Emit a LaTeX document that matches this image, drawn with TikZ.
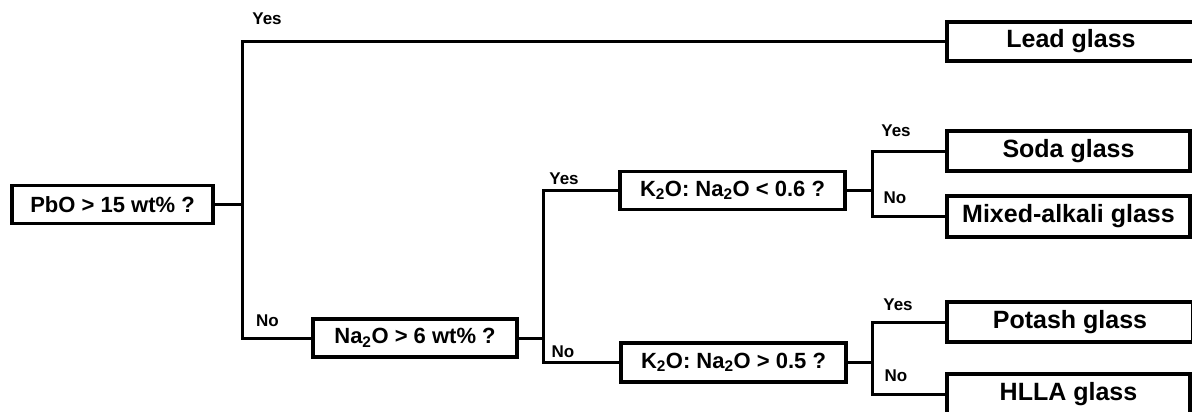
\documentclass[tikz,border=0pt]{standalone}
\usepackage{fontspec}
\setmainfont{Liberation Sans}
\begin{document}
\begin{tikzpicture}[x=1pt,y=-1pt,
  line width=3pt,
  qbox/.style={draw, line width=3.2pt, fill=white, inner sep=0pt,
    minimum height=38pt, font=\fontsize{22}{24}\selectfont\bfseries},
  leaf/.style={draw, line width=3.2pt, fill=white, inner sep=0pt,
    minimum height=40pt, font=\fontsize{25}{27}\selectfont\bfseries},
  lab/.style={inner sep=0pt, font=\fontsize{17}{19}\selectfont\bfseries}]
\clip (0,0) rectangle (1192,412);
\fill[white] (0,0) rectangle (1192,412);

% question boxes
\node[qbox, minimum width=201pt] (pbo) at (112.5,204.5) {PbO > 15 wt\% ?};
\node[qbox, minimum width=204pt] (na) at (415,338) {Na\textsubscript{2}O > 6 wt\% ?};
\node[qbox, minimum width=225pt] (k1) at (732.5,190.5) {K\textsubscript{2}O: Na\textsubscript{2}O < 0.6 ?};
\node[qbox, minimum width=225pt, minimum height=39pt] (k2) at (733.5,362.5) {K\textsubscript{2}O: Na\textsubscript{2}O > 0.5 ?};

% glass classes
\node[leaf, minimum width=248pt, minimum height=39pt] (lead) at (1071,41.5) {Lead glass};
\node[leaf, minimum width=243pt] (soda) at (1068.5,151) {Soda glass};
\node[leaf, minimum width=243pt, minimum height=41pt] (mixed) at (1068.5,216.5) {Mixed-alkali glass};
\node[leaf, minimum width=246pt] (potash) at (1070,322) {Potash glass};
\node[leaf, minimum width=243pt] (hlla) at (1068.5,394) {HLLA glass};

% branch points
\coordinate (t1) at (242,204.5);
\coordinate (t2) at (543,338);
\coordinate (t3) at (872,190.5);
\coordinate (t4) at (872,362.5);

% connectors
\draw (pbo.east) -- (t1);
\draw (lead.west) -| (t1) |- (na.west);
\draw (na.east) -- (t2);
\draw (k1.west) -| (t2) |- (k2.west);
\draw (k1.east) -- (t3);
\draw (soda.west) -| (t3) |- (mixed.west);
\draw (k2.east) -- (t4);
\draw (potash.west) -| (t4) |- (hlla.west);

% branch labels
\node[lab] (y1) at (267,19) {Yes};
\node[lab] (n1) at (267.5,321) {No};
\node[lab] (y2) at (564,179) {Yes};
\node[lab] (n2) at (563,352) {No};
\node[lab] (y3) at (896,131) {Yes};
\node[lab] (n3) at (895,198) {No};
\node[lab] (y4) at (898,305) {Yes};
\node[lab] (n4) at (896,376) {No};
\end{tikzpicture}
\end{document}
